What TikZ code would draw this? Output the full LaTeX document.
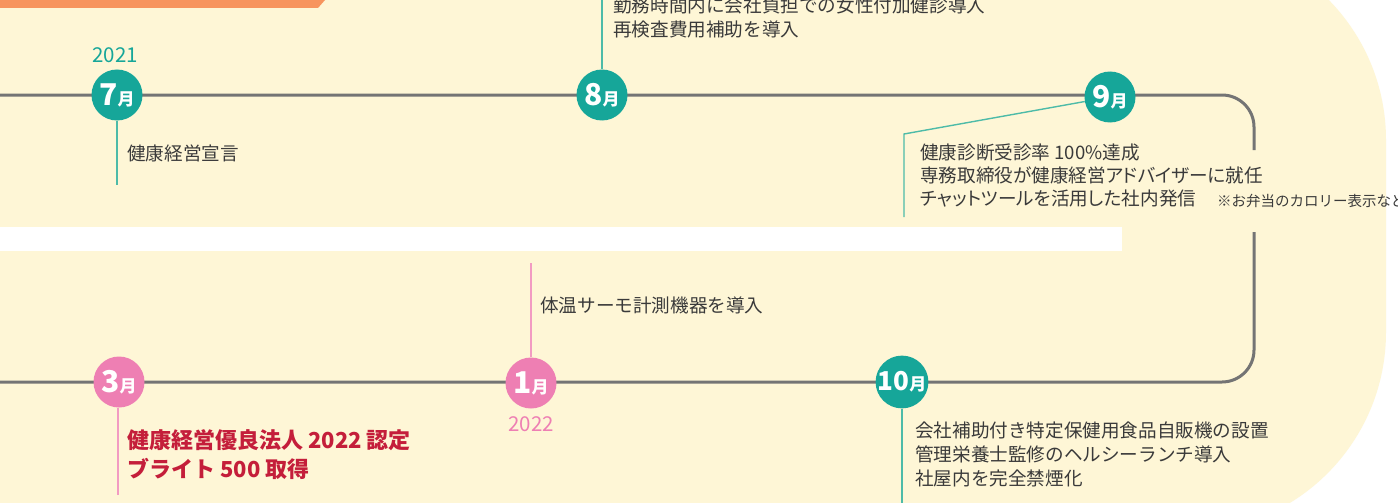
\documentclass[tikz,border=0pt]{standalone}
\usepackage{fontspec}
\setmainfont{Noto Sans CJK JP}
\newfontfamily\paltfont{Noto Sans CJK JP}[RawFeature=+palt]
\definecolor{creamc}{HTML}{FEF6D6}
\definecolor{tealc}{HTML}{16A699}
\definecolor{tealstem}{HTML}{4DBBA8}
\definecolor{pinkc}{HTML}{EE7FB3}
\definecolor{pinkstem}{HTML}{F29BC2}
\definecolor{grayline}{HTML}{747474}
\definecolor{txtc}{HTML}{3A3A3A}
\definecolor{redc}{HTML}{C41E3A}
\definecolor{bannerc}{HTML}{F7945E}
\newcommand{\mon}[2]{{\bfseries\fontsize{#2}{#2}\selectfont #1\fontsize{17}{17}\selectfont 月}}
\begin{document}
\begin{tikzpicture}[x=1pt,y=-1pt,
  tl/.style={draw=grayline, line width=3pt, rounded corners=32pt},
  tstem/.style={draw=tealstem, line width=1.4pt},
  pstem/.style={draw=pinkstem, line width=1.4pt},
  tdot/.style={circle, fill=tealc, minimum size=51pt, inner sep=0pt, text=white},
  pdot/.style={circle, fill=pinkc, minimum size=51pt, inner sep=0pt, text=white},
  body/.style={anchor=west, inner sep=0pt, text=txtc, font=\fontsize{18.6}{23.5}\selectfont},
  redtxt/.style={anchor=west, inner sep=0pt, text=redc, font=\bfseries\fontsize{22}{28}\selectfont},
  note/.style={anchor=west, inner sep=0pt, text=txtc, font=\fontsize{14.5}{16}\selectfont},
  year/.style={inner sep=0pt, font=\fontsize{20.5}{20.5}\selectfont}]
\useasboundingbox (0,0) rectangle (1398,503);
\clip (0,0) rectangle (1398,503);
% background
\fill[white] (0,0) rectangle (1398,503);
\fill[creamc, rounded corners=200pt] (-400,-60) rectangle (1386,532);
\fill[white] (0,227) rectangle (1122,251);
\fill[bannerc] (0,0) -- (325,0) -- (318,8) -- (0,8) -- cycle;
% timeline
\coordinate (L1) at (0,95);
\coordinate (C1) at (1254,95);
\coordinate (G1) at (1254,150);
\coordinate (G2) at (1254,232);
\coordinate (C2) at (1254,382);
\coordinate (L2) at (0,382);
\draw[tl] (L1) -- (C1) -- (G1);
\draw[tl] (G2) -- (C2) -- (L2);
% month circles
\node[tdot] (m7) at (117,95) {\mon{7}{30}};
\node[tdot] (m8) at (602,95) {\mon{8}{30}};
\node[tdot] (m9) at (1110,97) {\mon{9}{30}};
\node[tdot] (m10) at (902,382) {\mon{10}{26}};
\node[pdot] (m1) at (531,383) {\mon{1}{30}};
\node[pdot] (m3) at (119,382) {\mon{3}{30}};
% years
\node[year, text=tealc] (y21) at (115,55) {2021};
\node[year, text=pinkc] (y22) at (531,424) {2022};
% stems
\coordinate (s7) at (117,185);
\coordinate (s8) at (602,0);
\coordinate (k9) at (904,134);
\coordinate (s9) at (904,217);
\coordinate (s1) at (531,263);
\coordinate (s3) at (118,495);
\coordinate (s10) at (902,503);
\draw[tstem] (m7) -- (s7);
\draw[tstem] (m8) -- (s8);
\draw[tstem] (m9) -- (k9) -- (s9);
\draw[tstem] (m10) -- (s10);
\draw[pstem] (m1) -- (s1);
\draw[pstem] (m3.south -| s3) -- (s3);
% texts
\node[body] (t7) at (127,153) {健康経営宣言};
\node[body] (t8a) at (613,5) {勤務時間内に会社負担での女性付加健診導入};
\node[body] (t8b) at (613,29) {再検査費用補助を導入};
\node[body] (t9a) at (920,152) {健康診断受診率 100\%達成};
\node[body] (t9b) at (920,175.5) {\paltfont 専務取締役が健康経営アドバイザーに就任};
\node[body] (t9c) at (920,199) {\paltfont チャットツールを活用した社内発信};
\node[note] (n9) at (1217,200.5) {※お弁当のカロリー表示など};
\node[body] (t1) at (540,305) {体温サーモ計測機器を導入};
\node[redtxt] (t3a) at (127,440) {健康経営優良法人 2022 認定};
\node[redtxt] (t3b) at (127,469) {ブライト 500 取得};
\node[body] (t10a) at (915,430) {会社補助付き特定保健用食品自販機の設置};
\node[body] (t10b) at (915,454) {管理栄養士監修のヘルシーランチ導入};
\node[body] (t10c) at (915,478) {社屋内を完全禁煙化};
\end{tikzpicture}
\end{document}
